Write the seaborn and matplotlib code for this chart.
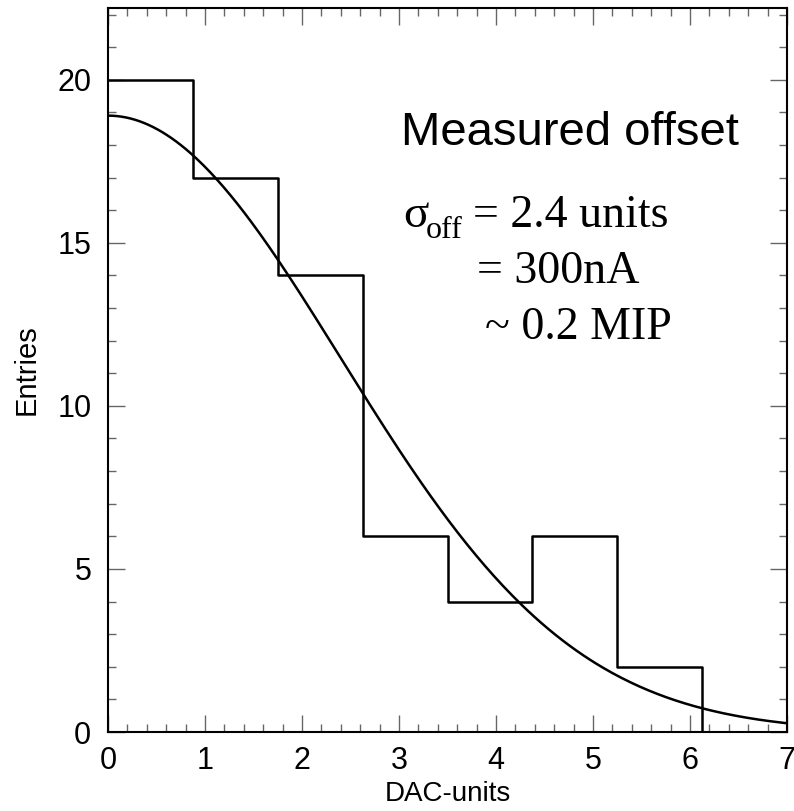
import numpy as np
import pandas as pd
import matplotlib
matplotlib.use("Agg")
import matplotlib.pyplot as plt
import seaborn as sns
from matplotlib.ticker import MultipleLocator

# histogram of measured offsets (DAC units), 8 bins of width 0.875
bin_edges = [0, 0.875, 1.75, 2.625, 3.5, 4.375, 5.25, 6.125, 7.0]
entries = [20, 17, 14, 6, 4, 6, 2, 0]

# gaussian fit
fit_amp = 18.9
fit_mean = 0.0
fit_sigma = 2.4

sns.set_style("ticks")
plt.rcParams["font.family"] = ["Liberation Sans", "DejaVu Sans"]
plt.rcParams["text.color"] = "black"
plt.rcParams["axes.labelcolor"] = "black"

W, H = 794, 811
fig = plt.figure(figsize=(W / 100, H / 100), dpi=100)
ax = fig.add_axes([108 / W, 1 - 732 / H, (787 - 108) / W, (732 - 8) / H])

centers = [(a + b) / 2 for a, b in zip(bin_edges[:-1], bin_edges[1:])]
df = pd.DataFrame({"offset": centers, "entries": entries})
sns.histplot(data=df, x="offset", weights="entries", bins=bin_edges,
             element="step", fill=False, color="black", linewidth=1.8, ax=ax)

xs = np.linspace(0, 7, 300)
fit = fit_amp * np.exp(-0.5 * ((xs - fit_mean) / fit_sigma) ** 2)
sns.lineplot(x=xs, y=fit, color="black", linewidth=1.8, ax=ax)

ax.set_xlim(0, 7)
ax.set_ylim(0, 22.2)
ax.xaxis.set_major_locator(MultipleLocator(1))
ax.xaxis.set_minor_locator(MultipleLocator(0.2))
ax.yaxis.set_major_locator(MultipleLocator(5))
ax.yaxis.set_minor_locator(MultipleLocator(1))
ax.tick_params(which="both", direction="in", top=True, right=True,
               color="#666666", width=1.0, labelsize=22, labelcolor="black")
ax.tick_params(which="major", length=12)
ax.tick_params(which="minor", length=6)
ax.tick_params(axis="x", pad=10)
ax.tick_params(axis="y", pad=12)
for s in ax.spines.values():
    s.set_linewidth(1.5)
    s.set_color("black")

ax.set_xlabel("DAC-units", fontsize=20, labelpad=4)
ax.set_ylabel("Entries", fontsize=21, labelpad=12)

# annotation
def px(x, y):
    return x / W, 1 - y / H

fig.text(*px(401, 145), "Measured offset", fontsize=34, ha="left", va="baseline")
serif = ["Liberation Serif", "DejaVu Serif"]
fig.text(*px(403, 227), "σ", fontsize=34, family=serif, ha="left", va="baseline")
fig.text(*px(426, 238), "off", fontsize=23, family=serif, ha="left", va="baseline")
fig.text(*px(473, 227), "= 2.4 units", fontsize=33, family=serif, ha="left", va="baseline")
fig.text(*px(477, 283), "= 300nA", fontsize=33, family=serif, ha="left", va="baseline")
fig.text(*px(485, 339), "~ 0.2 MIP", fontsize=33, family=serif, ha="left", va="baseline")

fig.savefig("out.png", dpi=100)
